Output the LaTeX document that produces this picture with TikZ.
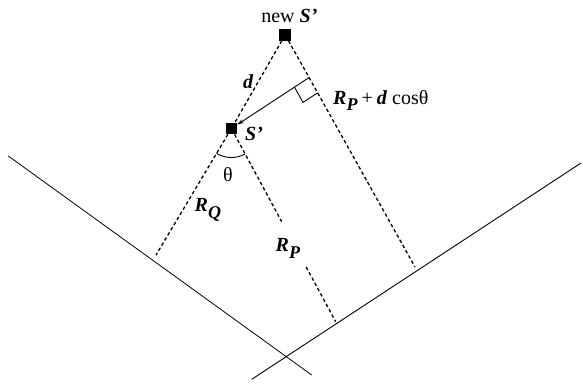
\documentclass[tikz,border=0pt]{standalone}
\usepackage{fontspec}
\setmainfont{Liberation Serif}
\usetikzlibrary{calc,arrows.meta}
\newcommand{\bi}[1]{\textbf{\textit{#1}}}
\newcommand{\subsc}[1]{\raisebox{-6.5pt}{\fontsize{18}{18}\selectfont\bi{#1}}}
\begin{document}
\begin{tikzpicture}[x=1pt,y=1pt,
  solidline/.style={line width=0.9pt},
  dashline/.style={line width=1.3pt, dash pattern=on 3.4pt off 2.6pt},
  sq/.style={fill=black, draw=none, rectangle, minimum size=11.5pt, inner sep=0pt},
  lbl/.style={font=\fontsize{20}{22}\selectfont, inner sep=0pt},
]
\useasboundingbox (0,0) rectangle (583,384);
% key points
\coordinate (N) at (285.2,349.2);
\coordinate (S) at (231.4,255.5);
\coordinate (L1) at (8.3,228);
\coordinate (L2) at (311.7,9);
\coordinate (R1) at (251.7,4.7);
\coordinate (R2) at (581,221);
\coordinate (QE) at (156,129);
\coordinate (BP) at (335.7,62.3);
\coordinate (BN) at (415,117);
\coordinate (F) at ($(N)!0.184!(BN)$);
\coordinate (PA) at ($(S)!0.482!(BP)$);
\coordinate (PB) at ($(S)!0.717!(BP)$);
\coordinate (M1) at ($(F)!17.5pt!(S)$);
\coordinate (M2) at ($(F)!17.5pt!(BN)$);
\coordinate (MC) at ($(M1)+(M2)-(F)$);

% surfaces
\draw[line width=0.8pt] (L1) -- (L2);
\draw[solidline] (R1) -- (R2);

% squares
\node[sq] (n) at (N) {};
\node[sq] (s) at (S) {};

% dashed lines
\draw[dashline] (n) -- (s);
\draw[dashline] (s) -- (QE);
\draw[dashline] (s) -- (PA);
\draw[dashline] (PB) -- (BP);
\draw[dashline] (n) -- (BN);

% perpendicular arrow and right angle mark
\draw[solidline,-{Stealth[length=6.5pt,width=4pt]}] (F) -- (s);
\draw[solidline] (M1) -- (MC) -- (M2);

% theta arc
\draw[solidline] ($(S)+(-121:29pt)$) arc[start angle=-121, end angle=-62, radius=29pt];

% labels
\node[lbl, anchor=base] (newS) at (289.4,362) {new \bi{S’}};
\node[lbl] (dlab) at (248.3,302.5) {\bi{d}};
\node[lbl, anchor=base west] (slab) at (245,243.5) {\bi{S’}};
\node[lbl] (th) at (228,209) {θ};
\node[lbl, anchor=base west] (rq) at (194.5,172.3) {\bi{R}\subsc{Q}};
\node[lbl, anchor=base west] (rp) at (275.5,132.3) {\bi{R}\subsc{P}};
\node[lbl, anchor=base west] (rpd) at (333,280) {\bi{R}\subsc{P}\hspace{4pt}+\hspace{4pt}\bi{d} cosθ};
\end{tikzpicture}
\end{document}
